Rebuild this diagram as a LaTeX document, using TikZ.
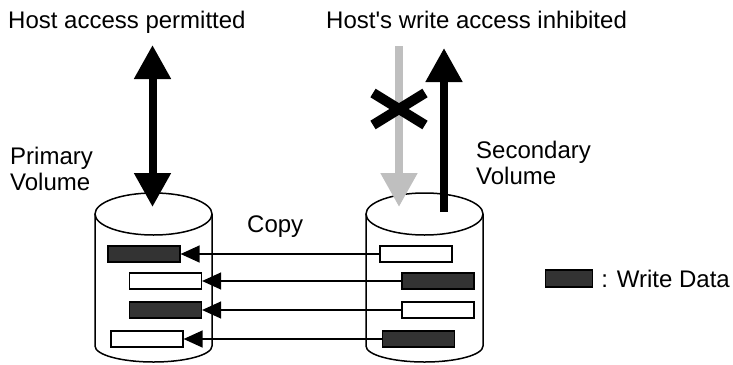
\documentclass[tikz,border=0pt]{standalone}
\usepackage{fontspec}
\newfontfamily\diagfont{Liberation Sans}
\usetikzlibrary{arrows.meta,positioning}
\begin{document}
\begin{tikzpicture}[x=1pt,y=-1pt,
font=\diagfont\fontsize{24}{26}\selectfont
%,scale=1, every node/.style={transform shape}
]

  \tikzstyle{wdata}=[draw=black,fill=black!80,line width=1.2pt,minimum width=72pt,minimum height=16pt,inner sep=0pt]
  \tikzstyle{edata}=[wdata,fill=white]
  \tikzstyle{txt}=[inner sep=0pt,align=left]
  \tikzstyle{copyline}=[line width=1.3pt,-{Triangle[length=19pt,width=17pt]}]
  \tikzstyle{hostarrow}=[line width=8pt,-{Triangle[length=34pt,width=35pt]}]
  \tikzstyle{volume}=[line width=1.5pt]

  \useasboundingbox (0,0) rectangle (733,364);

  % volumes
  \draw [volume] (153.5,214) ellipse [x radius=58.5pt,y radius=21pt];
  \draw [volume] (95,214) -- (95,346)
    arc [start angle=180,end angle=360,x radius=58.5pt,y radius=16pt]
    -- (212,214);

  \draw [volume] (424.5,214) ellipse [x radius=58.5pt,y radius=21pt];
  \draw [volume] (366,214) -- (366,346)
    arc [start angle=180,end angle=360,x radius=58.5pt,y radius=16pt]
    -- (483,214);

  % data blocks
  \node (p1) [wdata] at (144,254) {};
  \node (p2) [edata] at (165.5,281) {};
  \node (p3) [wdata] at (165.5,310) {};
  \node (p4) [edata] at (147,339) {};

  \node (s1) [edata] at (416,254) {};
  \node (s2) [wdata] at (438,281) {};
  \node (s3) [edata] at (438,310) {};
  \node (s4) [wdata] at (418.5,339) {};

  \draw [copyline] (s1.west) -- (p1.east);
  \draw [copyline] (s2.west) -- (p2.east);
  \draw [copyline] (s3.west) -- (p3.east);
  \draw [copyline] (s4.west) -- (p4.east);

  % host access
  \coordinate (hp1) at (152.5,45);
  \coordinate (hp2) at (152.5,207);
  \draw [hostarrow,{Triangle[length=34pt,width=35pt]}-{Triangle[length=34pt,width=35pt]}] (hp1) -- (hp2);

  \coordinate (hw1) at (399,46);
  \coordinate (hw2) at (399,207);
  \draw [hostarrow,draw=black!25] (hw1) -- (hw2);

  \coordinate (hr1) at (444,212);
  \coordinate (hr2) at (444,48);
  \draw [hostarrow] (hr1) -- (hr2);

  \draw [line width=10pt] (373,93) -- (425,125);
  \draw [line width=10pt] (373,125) -- (425,93);

  % labels
  \node (tp) [txt,anchor=base west] at (8,28) {Host access permitted};
  \node (tw) [txt,anchor=base west] at (326,28) {Host's write access inhibited};
  \node (pv) [txt,anchor=north west] at (10,147) {Primary\\Volume};
  \node (sv) [txt,anchor=north west] at (476,141) {Secondary\\Volume};
  \node (cp) [txt,anchor=base west] at (247,232) {Copy};

  % legend
  \node (lg) [wdata,minimum width=47pt,minimum height=17pt] at (569,278.5) {};
  \node (lt) [txt,right=8pt of lg] {: Write Data};

\end{tikzpicture}
\end{document}
